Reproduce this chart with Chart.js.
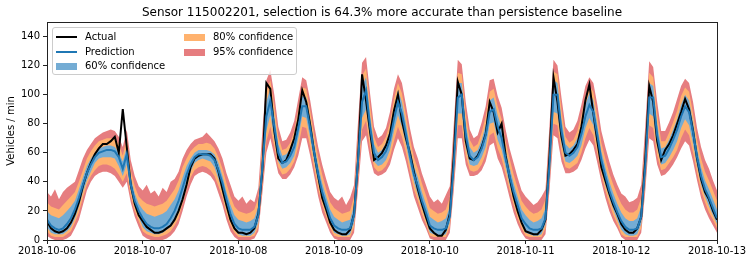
<!DOCTYPE html>
<html>
<head>
<meta charset="utf-8">
<script src="https://cdn.jsdelivr.net/npm/chart.js@4.4.1/dist/chart.umd.min.js"></script>
<style>
  body { margin: 0; background: #fff; }
  #wrap { position: relative; width: 753px; height: 264px; }
  #legend {
    position: absolute; left: 52px; top: 27px; width: 243px; height: 46px;
    border: 1px solid #ccc; border-radius: 3px; background: rgba(255,255,255,0.8);
    font: 10px "DejaVu Sans", sans-serif; color: #000;
  }
  #legend .item { position: absolute; display: flex; align-items: center; height: 12px; line-height: 12px; white-space: nowrap; }
  #legend .handle { display: inline-block; width: 21px; margin-right: 8px; }
</style>
</head>
<body>
<div id="wrap">
  <canvas id="chart" width="753" height="264"></canvas>
  <div id="legend"></div>
</div>
<script>
// hourly samples, 2018-10-06 00:00 .. 2018-10-13 00:00
const dayLabels = ['2018-10-06', '2018-10-07', '2018-10-08', '2018-10-09', '2018-10-10', '2018-10-11', '2018-10-12', '2018-10-13'];

const actual = [
  13, 8, 6, 5, 6, 8, 12, 18, 26, 37, 46, 53, 59, 63, 66, 66, 68, 71, 60, 90, 64, 38, 25, 17,
  13, 9, 7, 5, 5, 6, 8, 10, 14, 20, 28, 38, 50, 56, 58, 59, 59, 59, 56, 47, 35, 24, 14, 8,
  5, 5, 4, 5, 8, 18, 48, 108, 104, 75, 56, 53, 55, 62, 70, 83, 103, 95, 79, 60, 44, 29, 21, 12,
  7, 5, 4, 4, 7, 18, 55, 114, 96, 75, 55, 57, 60, 65, 73, 89, 100, 82, 70, 60, 47, 35, 25, 16,
  8, 5, 3, 3, 7, 18, 58, 109, 100, 68, 56, 55, 58, 64, 73, 95, 88, 74, 80, 58, 43, 30, 20, 12,
  6, 5, 4, 4, 7, 14, 58, 112, 95, 71, 58, 59, 62, 66, 78, 96, 107, 87, 68, 50, 41, 32, 24, 18,
  11, 7, 5, 5, 8, 16, 55, 106, 95, 68, 55, 62, 66, 72, 80, 88, 97, 90, 75, 56, 42, 33, 28, 20, 14
];

const prediction = [
  14, 10, 8, 7, 8, 11, 15, 21, 29, 38, 46, 52, 57, 60, 61, 62, 62, 61, 57, 49, 59, 38, 27, 20,
  15, 11, 9, 8, 8, 9, 11, 15, 20, 27, 36, 45, 52, 57, 59, 59, 59, 58, 55, 48, 39, 28, 18, 11,
  8, 7, 7, 7, 9, 17, 50, 85, 96, 78, 60, 53, 54, 58, 64, 77, 92, 92, 77, 60, 45, 33, 24, 15,
  10, 8, 7, 7, 8, 17, 55, 95, 103, 78, 60, 55, 57, 61, 69, 83, 95, 87, 73, 58, 45, 37, 27, 19,
  10, 8, 7, 7, 8, 16, 52, 98, 100, 72, 58, 55, 57, 63, 72, 88, 90, 78, 70, 56, 44, 33, 24, 15,
  11, 8, 7, 7, 8, 15, 52, 100, 100, 75, 60, 58, 60, 64, 73, 85, 93, 88, 72, 55, 44, 34, 26, 19,
  13, 9, 7, 7, 8, 16, 50, 98, 98, 72, 57, 58, 63, 69, 76, 85, 92, 88, 74, 57, 44, 35, 29, 22, 15
];

const lower60 = [
  9, 5, 4, 4, 4, 6, 9, 15, 23, 33, 41, 47, 53, 56, 57, 57, 57, 56, 51, 44, 52, 34, 23, 16,
  9, 6, 5, 4, 4, 5, 7, 9, 13, 19, 29, 39, 47, 53, 55, 56, 55, 54, 50, 42, 33, 22, 13, 7,
  4, 3, 3, 3, 5, 12, 43, 75, 86, 70, 54, 49, 50, 53, 58, 70, 85, 84, 70, 54, 40, 28, 19, 11,
  5, 4, 3, 3, 4, 12, 48, 84, 90, 70, 54, 51, 52, 55, 62, 75, 86, 78, 66, 52, 40, 31, 22, 14,
  5, 4, 3, 3, 4, 12, 46, 87, 87, 64, 52, 51, 52, 57, 64, 80, 81, 69, 62, 50, 38, 28, 19, 11,
  5, 4, 3, 3, 4, 11, 46, 88, 87, 66, 54, 53, 55, 58, 65, 77, 84, 79, 65, 50, 38, 29, 21, 14,
  7, 4, 3, 3, 4, 11, 44, 87, 85, 64, 52, 53, 57, 62, 68, 77, 83, 79, 66, 51, 38, 30, 23, 17, 11
];
const upper60 = [
  20, 17, 16, 15, 17, 20, 23, 27, 35, 43, 51, 56, 60, 63, 64, 65, 65, 64, 60, 54, 64, 43, 32, 25,
  21, 18, 17, 16, 17, 18, 20, 24, 28, 34, 43, 51, 56, 60, 62, 62, 62, 61, 59, 53, 44, 33, 24, 17,
  14, 13, 12, 13, 15, 23, 58, 95, 104, 85, 66, 58, 59, 63, 70, 84, 99, 98, 83, 66, 51, 39, 30, 21,
  16, 14, 12, 13, 14, 24, 64, 106, 112, 86, 66, 60, 62, 67, 76, 91, 103, 95, 80, 64, 51, 43, 33, 25,
  16, 14, 12, 13, 15, 23, 62, 108, 108, 80, 64, 60, 62, 69, 79, 96, 98, 86, 77, 62, 50, 39, 30, 21,
  17, 14, 12, 13, 15, 22, 62, 110, 108, 83, 66, 63, 65, 70, 80, 93, 101, 96, 79, 61, 50, 40, 32, 25,
  19, 15, 13, 13, 15, 23, 60, 108, 106, 80, 63, 64, 69, 76, 83, 93, 100, 96, 81, 63, 50, 41, 35, 28, 21
];

const lower80 = [
  6, 3, 2, 2, 2, 4, 6, 12, 19, 29, 38, 44, 48, 51, 52, 52, 51, 49, 45, 40, 46, 30, 20, 13,
  6, 4, 3, 2, 2, 3, 4, 6, 10, 15, 25, 35, 43, 48, 50, 51, 50, 48, 44, 37, 29, 18, 10, 5,
  2, 2, 2, 2, 3, 9, 38, 68, 78, 64, 50, 45, 46, 49, 54, 64, 78, 77, 64, 49, 35, 24, 16, 8,
  3, 2, 2, 2, 2, 9, 42, 76, 82, 63, 50, 47, 48, 51, 57, 68, 78, 71, 60, 47, 35, 27, 18, 11,
  3, 2, 2, 2, 2, 9, 40, 79, 79, 58, 48, 47, 48, 52, 59, 72, 74, 63, 56, 45, 34, 24, 15, 8,
  3, 2, 2, 2, 2, 8, 40, 80, 79, 60, 50, 49, 51, 53, 60, 70, 77, 72, 59, 45, 34, 25, 17, 11,
  4, 2, 2, 2, 2, 8, 39, 79, 77, 58, 48, 49, 53, 57, 62, 70, 76, 72, 60, 46, 34, 26, 19, 14, 8
];
const upper80 = [
  26, 23, 22, 21, 24, 27, 30, 33, 40, 48, 56, 61, 65, 68, 69, 70, 70, 70, 66, 58, 70, 48, 37, 30,
  27, 25, 24, 23, 24, 25, 27, 31, 35, 41, 50, 56, 61, 64, 66, 66, 67, 66, 63, 57, 49, 39, 30, 23,
  20, 19, 18, 19, 21, 29, 66, 102, 110, 92, 71, 62, 63, 67, 75, 90, 105, 104, 89, 72, 57, 45, 35, 26,
  22, 20, 18, 19, 20, 30, 72, 113, 118, 93, 71, 64, 66, 71, 81, 97, 108, 101, 86, 70, 57, 49, 39, 31,
  22, 20, 18, 19, 21, 29, 70, 115, 114, 87, 69, 64, 66, 74, 85, 102, 104, 92, 83, 68, 56, 45, 36, 27,
  23, 20, 18, 19, 21, 28, 70, 116, 114, 90, 71, 67, 69, 75, 86, 99, 106, 102, 85, 67, 56, 46, 38, 31,
  25, 21, 19, 19, 21, 29, 68, 115, 112, 87, 68, 68, 74, 81, 89, 99, 105, 102, 87, 69, 56, 47, 41, 34, 27
];

const lower95 = [
  3, 1, 0, 0, 0, 1, 3, 8, 14, 24, 34, 40, 44, 46, 47, 47, 46, 44, 40, 36, 40, 26, 16, 9,
  3, 1, 0, 0, 0, 0, 1, 3, 6, 11, 20, 30, 38, 44, 46, 47, 46, 44, 40, 32, 24, 14, 6, 2,
  0, 0, 0, 0, 1, 6, 32, 60, 70, 58, 46, 42, 42, 45, 50, 58, 70, 70, 58, 44, 30, 19, 12, 5,
  1, 0, 0, 0, 0, 5, 35, 68, 72, 56, 46, 44, 45, 47, 52, 62, 70, 64, 54, 42, 30, 22, 14, 8,
  1, 0, 0, 0, 0, 5, 34, 70, 70, 52, 44, 44, 45, 48, 54, 65, 67, 56, 50, 40, 29, 19, 11, 5,
  1, 0, 0, 0, 0, 4, 34, 72, 70, 54, 46, 46, 47, 49, 55, 63, 69, 65, 53, 40, 29, 20, 13, 8,
  2, 0, 0, 0, 0, 5, 33, 70, 68, 52, 44, 45, 48, 52, 57, 63, 68, 65, 54, 41, 29, 21, 15, 10, 5
];
const upper95 = [
  33, 30, 35, 28, 33, 36, 38, 40, 48, 56, 62, 66, 70, 72, 74, 75, 76, 75, 71, 64, 76, 55, 44, 37,
  34, 38, 32, 34, 30, 36, 33, 40, 42, 47, 56, 62, 66, 69, 70, 71, 74, 71, 68, 63, 56, 46, 38, 30,
  27, 30, 25, 28, 26, 36, 75, 110, 117, 100, 78, 68, 69, 74, 82, 97, 112, 110, 96, 79, 64, 52, 42, 33,
  29, 27, 30, 24, 29, 38, 82, 122, 126, 101, 78, 70, 72, 77, 88, 104, 114, 108, 93, 77, 64, 56, 46, 38,
  30, 26, 28, 25, 31, 37, 80, 124, 121, 95, 76, 70, 72, 81, 92, 110, 111, 99, 91, 76, 63, 53, 43, 34,
  30, 27, 24, 26, 30, 35, 79, 124, 120, 98, 78, 74, 76, 82, 93, 106, 112, 108, 93, 75, 64, 54, 45, 38,
  32, 30, 26, 27, 29, 38, 78, 123, 119, 95, 75, 75, 81, 88, 97, 106, 111, 108, 95, 77, 64, 55, 49, 41, 34
];

const colors = { actual: '#000000', prediction: '#1f77b4', c60: '#74acd4', c80: '#ffb26e', c95: '#e67d7f' };

const xy = arr => arr.map((v, i) => ({ x: i, y: v }));

const band = (label, data, color, order, fill) => ({
  label: label,
  data: xy(data),
  borderWidth: 0,
  borderColor: color,
  backgroundColor: color,
  pointRadius: 0,
  tension: 0,
  order: order,
  fill: fill
});

const frame = {
  id: 'frame',
  afterDraw(chart) {
    const { ctx, chartArea: a } = chart;
    ctx.save();
    ctx.strokeStyle = '#222';
    ctx.lineWidth = 1;
    ctx.strokeRect(Math.round(a.left) + 0.5, Math.round(a.top) + 0.5, Math.round(a.right - a.left), Math.round(a.bottom - a.top));
    ctx.restore();
  }
};

Chart.defaults.font.family = '"DejaVu Sans", sans-serif';
Chart.defaults.font.size = 10;
Chart.defaults.color = '#000';

new Chart(document.getElementById('chart'), {
  type: 'line',
  data: {
    datasets: [
      { label: 'Actual', data: xy(actual), borderColor: colors.actual, borderWidth: 2, pointRadius: 0, tension: 0, fill: false, order: 1 },
      { label: 'Prediction', data: xy(prediction), borderColor: colors.prediction, borderWidth: 2, pointRadius: 0, tension: 0, fill: false, order: 0 },
      band('60% confidence', upper60, colors.c60, 2, 3),
      band('60% lower', lower60, colors.c60, 2, false),
      band('80% confidence', upper80, colors.c80, 3, 5),
      band('80% lower', lower80, colors.c80, 3, false),
      band('95% confidence', upper95, colors.c95, 4, 7),
      band('95% lower', lower95, colors.c95, 4, false)
    ]
  },
  options: {
    responsive: false,
    animation: false,
    layout: { padding: { left: 0, right: 36, top: 0, bottom: 0 } },
    plugins: {
      legend: { display: false },
      tooltip: { enabled: false },
      filler: { propagate: false },
      title: {
        display: true,
        fullSize: false,
        text: 'Sensor 115002201, selection is 64.3% more accurate than persistence baseline',
        font: { size: 12, weight: 'normal' },
        color: '#000',
        padding: { top: 5.5, bottom: 2.1 }
      }
    },
    scales: {
      x: {
        type: 'linear',
        min: 0,
        max: 168,
        ticks: { stepSize: 24, padding: 1, maxRotation: 0, callback: v => dayLabels[v / 24] },
        grid: { display: true, drawOnChartArea: false, drawTicks: true, tickLength: 4, color: '#222' },
        border: { display: false },
        afterFit: s => { s.height = 24; }
      },
      y: {
        min: 0,
        max: 150,
        ticks: { stepSize: 20, padding: 3 },
        afterBuildTicks: s => { s.ticks = s.ticks.filter(t => t.value <= 140); },
        grid: { display: true, drawOnChartArea: false, drawTicks: true, tickLength: 4, color: '#222' },
        border: { display: false },
        title: { display: true, text: 'Vehicles / min', font: { size: 10 }, color: '#000', padding: { top: 5, bottom: 0 } },
        afterFit: s => { s.width = 47; }
      }
    }
  },
  plugins: [frame]
});

// legend laid out in two columns like the original
const legendItems = [
  { text: 'Actual', color: colors.actual, kind: 'line', left: 3, top: 3 },
  { text: 'Prediction', color: colors.prediction, kind: 'line', left: 3, top: 18 },
  { text: '60% confidence', color: colors.c60, kind: 'patch', left: 3, top: 32 },
  { text: '80% confidence', color: colors.c80, kind: 'patch', left: 131, top: 3 },
  { text: '95% confidence', color: colors.c95, kind: 'patch', left: 131, top: 18 }
];
const legend = document.getElementById('legend');
legendItems.forEach(it => {
  const item = document.createElement('div');
  item.className = 'item';
  item.style.left = it.left + 'px';
  item.style.top = it.top + 'px';
  const h = document.createElement('span');
  h.className = 'handle';
  h.style.height = it.kind === 'line' ? '2px' : '7px';
  h.style.background = it.color;
  item.appendChild(h);
  item.appendChild(document.createTextNode(it.text));
  legend.appendChild(item);
});
</script>
</body>
</html>
